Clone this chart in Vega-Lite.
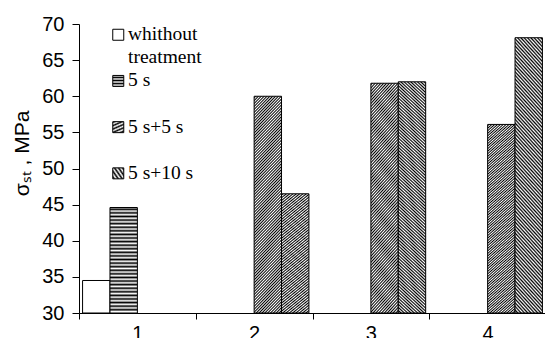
{
  "$schema": "https://vega.github.io/schema/vega-lite/v6.json",
  "autosize": {"type": "none"},
  "padding": {"left": 79, "top": 24, "right": 0, "bottom": 25},
  "width": 467,
  "height": 289,
  "background": "white",
  "params": [
    {"name": "hs", "expr": "[{offset:0,color:'#fff'},{offset:0.017,color:'#000'},{offset:0.034,color:'#fff'},{offset:0.051,color:'#000'},{offset:0.068,color:'#fff'},{offset:0.085,color:'#000'},{offset:0.102,color:'#fff'},{offset:0.119,color:'#000'},{offset:0.136,color:'#fff'},{offset:0.153,color:'#000'},{offset:0.17,color:'#fff'},{offset:0.187,color:'#000'},{offset:0.204,color:'#fff'},{offset:0.221,color:'#000'},{offset:0.238,color:'#fff'},{offset:0.255,color:'#000'},{offset:0.272,color:'#fff'},{offset:0.289,color:'#000'},{offset:0.306,color:'#fff'},{offset:0.323,color:'#000'},{offset:0.34,color:'#fff'},{offset:0.357,color:'#000'},{offset:0.374,color:'#fff'},{offset:0.391,color:'#000'},{offset:0.408,color:'#fff'},{offset:0.425,color:'#000'},{offset:0.442,color:'#fff'},{offset:0.459,color:'#000'},{offset:0.476,color:'#fff'},{offset:0.493,color:'#000'},{offset:0.51,color:'#fff'},{offset:0.527,color:'#000'},{offset:0.544,color:'#fff'},{offset:0.561,color:'#000'},{offset:0.578,color:'#fff'},{offset:0.595,color:'#000'},{offset:0.612,color:'#fff'},{offset:0.629,color:'#000'},{offset:0.646,color:'#fff'},{offset:0.663,color:'#000'},{offset:0.68,color:'#fff'},{offset:0.697,color:'#000'},{offset:0.714,color:'#fff'},{offset:0.731,color:'#000'},{offset:0.748,color:'#fff'},{offset:0.765,color:'#000'},{offset:0.782,color:'#fff'},{offset:0.799,color:'#000'},{offset:0.816,color:'#fff'},{offset:0.833,color:'#000'},{offset:0.85,color:'#fff'},{offset:0.867,color:'#000'},{offset:0.884,color:'#fff'},{offset:0.901,color:'#000'},{offset:0.918,color:'#fff'},{offset:0.935,color:'#000'},{offset:0.952,color:'#fff'},{offset:0.969,color:'#000'},{offset:0.986,color:'#fff'}]"},
    {"name": "ds", "expr": "[{offset:0,color:'#fff'},{offset:0.006,color:'#000'},{offset:0.012,color:'#fff'},{offset:0.018,color:'#000'},{offset:0.024,color:'#fff'},{offset:0.03,color:'#000'},{offset:0.036,color:'#fff'},{offset:0.042,color:'#000'},{offset:0.048,color:'#fff'},{offset:0.054,color:'#000'},{offset:0.06,color:'#fff'},{offset:0.066,color:'#000'},{offset:0.072,color:'#fff'},{offset:0.078,color:'#000'},{offset:0.084,color:'#fff'},{offset:0.09,color:'#000'},{offset:0.096,color:'#fff'},{offset:0.102,color:'#000'},{offset:0.108,color:'#fff'},{offset:0.114,color:'#000'},{offset:0.12,color:'#fff'},{offset:0.126,color:'#000'},{offset:0.132,color:'#fff'},{offset:0.138,color:'#000'},{offset:0.144,color:'#fff'},{offset:0.15,color:'#000'},{offset:0.156,color:'#fff'},{offset:0.162,color:'#000'},{offset:0.168,color:'#fff'},{offset:0.174,color:'#000'},{offset:0.18,color:'#fff'},{offset:0.186,color:'#000'},{offset:0.192,color:'#fff'},{offset:0.198,color:'#000'},{offset:0.204,color:'#fff'},{offset:0.21,color:'#000'},{offset:0.216,color:'#fff'},{offset:0.222,color:'#000'},{offset:0.228,color:'#fff'},{offset:0.234,color:'#000'},{offset:0.24,color:'#fff'},{offset:0.246,color:'#000'},{offset:0.252,color:'#fff'},{offset:0.258,color:'#000'},{offset:0.264,color:'#fff'},{offset:0.27,color:'#000'},{offset:0.276,color:'#fff'},{offset:0.282,color:'#000'},{offset:0.288,color:'#fff'},{offset:0.294,color:'#000'},{offset:0.3,color:'#fff'},{offset:0.306,color:'#000'},{offset:0.312,color:'#fff'},{offset:0.318,color:'#000'},{offset:0.324,color:'#fff'},{offset:0.33,color:'#000'},{offset:0.336,color:'#fff'},{offset:0.342,color:'#000'},{offset:0.348,color:'#fff'},{offset:0.354,color:'#000'},{offset:0.36,color:'#fff'},{offset:0.366,color:'#000'},{offset:0.372,color:'#fff'},{offset:0.378,color:'#000'},{offset:0.384,color:'#fff'},{offset:0.39,color:'#000'},{offset:0.396,color:'#fff'},{offset:0.402,color:'#000'},{offset:0.408,color:'#fff'},{offset:0.414,color:'#000'},{offset:0.42,color:'#fff'},{offset:0.426,color:'#000'},{offset:0.432,color:'#fff'},{offset:0.438,color:'#000'},{offset:0.444,color:'#fff'},{offset:0.45,color:'#000'},{offset:0.456,color:'#fff'},{offset:0.462,color:'#000'},{offset:0.468,color:'#fff'},{offset:0.474,color:'#000'},{offset:0.48,color:'#fff'},{offset:0.486,color:'#000'},{offset:0.492,color:'#fff'},{offset:0.498,color:'#000'},{offset:0.504,color:'#fff'},{offset:0.51,color:'#000'},{offset:0.516,color:'#fff'},{offset:0.522,color:'#000'},{offset:0.528,color:'#fff'},{offset:0.534,color:'#000'},{offset:0.54,color:'#fff'},{offset:0.546,color:'#000'},{offset:0.552,color:'#fff'},{offset:0.558,color:'#000'},{offset:0.564,color:'#fff'},{offset:0.57,color:'#000'},{offset:0.576,color:'#fff'},{offset:0.582,color:'#000'},{offset:0.588,color:'#fff'},{offset:0.594,color:'#000'},{offset:0.6,color:'#fff'},{offset:0.606,color:'#000'},{offset:0.612,color:'#fff'},{offset:0.618,color:'#000'},{offset:0.624,color:'#fff'},{offset:0.63,color:'#000'},{offset:0.636,color:'#fff'},{offset:0.642,color:'#000'},{offset:0.648,color:'#fff'},{offset:0.654,color:'#000'},{offset:0.66,color:'#fff'},{offset:0.666,color:'#000'},{offset:0.672,color:'#fff'},{offset:0.678,color:'#000'},{offset:0.684,color:'#fff'},{offset:0.69,color:'#000'},{offset:0.696,color:'#fff'},{offset:0.702,color:'#000'},{offset:0.708,color:'#fff'},{offset:0.714,color:'#000'},{offset:0.72,color:'#fff'},{offset:0.726,color:'#000'},{offset:0.732,color:'#fff'},{offset:0.738,color:'#000'},{offset:0.744,color:'#fff'},{offset:0.75,color:'#000'},{offset:0.756,color:'#fff'},{offset:0.762,color:'#000'},{offset:0.768,color:'#fff'},{offset:0.774,color:'#000'},{offset:0.78,color:'#fff'},{offset:0.786,color:'#000'},{offset:0.792,color:'#fff'},{offset:0.798,color:'#000'},{offset:0.804,color:'#fff'},{offset:0.81,color:'#000'},{offset:0.816,color:'#fff'},{offset:0.822,color:'#000'},{offset:0.828,color:'#fff'},{offset:0.834,color:'#000'},{offset:0.84,color:'#fff'},{offset:0.846,color:'#000'},{offset:0.852,color:'#fff'},{offset:0.858,color:'#000'},{offset:0.864,color:'#fff'},{offset:0.87,color:'#000'},{offset:0.876,color:'#fff'},{offset:0.882,color:'#000'},{offset:0.888,color:'#fff'},{offset:0.894,color:'#000'},{offset:0.9,color:'#fff'},{offset:0.906,color:'#000'},{offset:0.912,color:'#fff'},{offset:0.918,color:'#000'},{offset:0.924,color:'#fff'},{offset:0.93,color:'#000'},{offset:0.936,color:'#fff'},{offset:0.942,color:'#000'},{offset:0.948,color:'#fff'},{offset:0.954,color:'#000'},{offset:0.96,color:'#fff'},{offset:0.966,color:'#000'},{offset:0.972,color:'#fff'},{offset:0.978,color:'#000'},{offset:0.984,color:'#fff'},{offset:0.99,color:'#000'},{offset:0.996,color:'#fff'}]"}
  ],
  "data": {"values": [
    {"cat": "1", "series": "whithout treatment", "value": 34.5},
    {"cat": "1", "series": "5 s", "value": 44.6},
    {"cat": "2", "series": "5 s+5 s", "value": 60.0},
    {"cat": "2", "series": "5 s+10 s", "value": 46.5},
    {"cat": "3", "series": "5 s+5 s", "value": 61.8},
    {"cat": "3", "series": "5 s+10 s", "value": 62.0},
    {"cat": "4", "series": "5 s+5 s", "value": 56.1},
    {"cat": "4", "series": "5 s+10 s", "value": 68.1}
  ]},
  "mark": {"type": "bar", "stroke": "black", "strokeWidth": 1},
  "encoding": {
    "x": {"field": "cat", "type": "nominal", "sort": ["1", "2", "3", "4"],
      "scale": {"domain": ["1", "2", "3", "4"], "paddingInner": 0, "paddingOuter": 0},
      "axis": {"title": null, "labelAngle": 0, "tickBand": "extent", "tickSize": 6, "labelPadding": 4,
        "labelFont": "Liberation Sans", "labelFontSize": 20, "labelColor": "black",
        "domainColor": "black", "tickColor": "black", "grid": false}},
    "xOffset": {"field": "series", "type": "nominal",
      "scale": {"domain": ["whithout treatment", "5 s", "5 s+5 s", "5 s+10 s"], "paddingInner": 0, "paddingOuter": 0.13}},
    "y": {"field": "value", "type": "quantitative",
      "scale": {"domain": [30, 70], "nice": false, "zero": false},
      "axis": {"values": [30, 35, 40, 45, 50, 55, 60, 65, 70], "title": "σₛₜ , MPa",
        "titleFont": "Liberation Sans", "titleFontSize": 21, "titleFontWeight": "normal", "titleColor": "black",
        "titleX": -51, "titleY": 129, "titleAngle": 270, "titleAlign": "center", "titleBaseline": "alphabetic",
        "labelFont": "Liberation Sans", "labelFontSize": 20, "labelColor": "black", "labelPadding": 8,
        "tickSize": 7, "tickColor": "black", "domainColor": "black", "grid": false}},
    "y2": {"datum": 30},
    "fill": {"field": "series", "type": "nominal",
      "scale": {"domain": ["whithout treatment", "5 s", "5 s+5 s", "5 s+10 s"],
        "range": [
          "white",
          {"expr": "{gradient:'linear',x1:0,y1:0,x2:0,y2:1,stops:hs}"},
          {"expr": "{gradient:'linear',x1:0,y1:0,x2:0.1445,y2:1.111,stops:ds}"},
          {"expr": "{gradient:'linear',x1:1,y1:0,x2:0.8794,y2:1.0967,stops:ds}"}
        ]},
      "legend": {"orient": "none", "legendX": 29.5, "legendY": 6.5, "title": null, "padding": 0,
        "labelFont": "Liberation Serif", "labelFontSize": 19.5, "labelColor": "black", "labelBaseline": "alphabetic",
        "labelOffset": 0, "labelLimit": 0,
        "labelExpr": "datum.label == 'whithout treatment' ? ['whithout', 'treatment'] : [datum.label, '']",
        "symbolType": "M-1,-2H1V0H-1Z", "symbolSize": 121, "symbolStrokeColor": "black", "symbolStrokeWidth": 1,
        "rowPadding": 2.2}}
  },
  "config": {
    "view": {"stroke": null},
    "style": {"guide-label": {"lineHeight": 23}}
  }
}
